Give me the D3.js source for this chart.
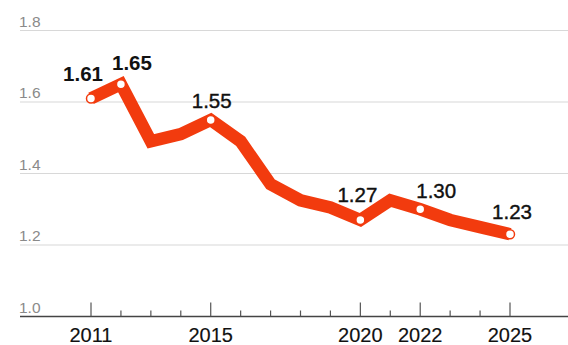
<!DOCTYPE html>
<head>
	<meta charset="utf-8">
	<title>Line chart</title>
	<script src="https://d3js.org/d3.v7.min.js"></script>
	<style>
		body{
			margin: 0;
			background-color: white;
		}
		text{
			font-family: "Liberation Sans", Arial, sans-serif;
		}
	</style>
</head>
<body>
	<div id="chart"></div>

	<script>
		var width = 568;
		var height = 345;

		// data
		var years = [2011, 2012, 2013, 2014, 2015, 2016, 2017, 2018, 2019, 2020, 2021, 2022, 2023, 2024, 2025];
		var values = [1.61, 1.65, 1.49, 1.51, 1.55, 1.49, 1.37, 1.325, 1.305, 1.27, 1.325, 1.30, 1.27, 1.25, 1.23];
		var yTicks = [1.0, 1.2, 1.4, 1.6, 1.8];
		var xLabels = [2011, 2015, 2020, 2022, 2025];
		var markedYears = [2011, 2012, 2015, 2020, 2022, 2025];

		// label nudges (dx, dy from the marker), by marked year
		var labelOffsets = {2011: [-8, -17], 2012: [11, -14], 2015: [1, -12], 2020: [-3, -18], 2022: [16, -11], 2025: [2, -15]};

		var x = d3.scaleLinear().domain([2011, 2025]).range([91, 510]);
		var y = d3.scaleLinear().domain([1.0, 1.8]).range([316.5, 30.5]);

		var svg = d3.select("#chart").append("svg")
			.attr("width", width)
			.attr("height", height);

		// gridlines + y labels
		var grid = svg.append("g").selectAll("g").data(yTicks).enter().append("g");
		grid.append("line")
			.attr("x1", 20)
			.attr("x2", width)
			.attr("y1", function(d){ return y(d); })
			.attr("y2", function(d){ return y(d); })
			.attr("stroke", function(d){ return d == 1.0 ? "#444" : "#d8d8d8"; })
			.attr("stroke-width", function(d){ return d == 1.0 ? 1.5 : 1.2; });
		grid.append("text")
			.attr("x", 19)
			.attr("y", function(d){ return y(d) - 4; })
			.attr("font-size", 15.5)
			.attr("fill", "#8a8a8a")
			.text(function(d){ return d.toFixed(1); });

		// ticks on the x axis
		svg.append("g").selectAll("line").data(years).enter().append("line")
			.attr("x1", function(d){ return x(d); })
			.attr("x2", function(d){ return x(d); })
			.attr("y1", function(d){ return xLabels.indexOf(d) >= 0 ? y(1.0) - 14 : y(1.0) - 6; })
			.attr("y2", y(1.0))
			.attr("stroke", "#555")
			.attr("stroke-width", 1.2);

		svg.append("g").selectAll("text").data(xLabels).enter().append("text")
			.attr("x", function(d){ return x(d); })
			.attr("y", 341.5)
			.attr("text-anchor", "middle")
			.attr("font-size", 20)
			.attr("fill", "#111")
			.attr("stroke", "#111")
			.attr("stroke-width", 0.15)
			.text(function(d){ return d; });

		// the line
		var line = d3.line()
			.x(function(d, i){ return x(years[i]); })
			.y(function(d){ return y(d); });

		svg.append("path")
			.datum(values)
			.attr("d", line)
			.attr("fill", "none")
			.attr("stroke", "#f23b0e")
			.attr("stroke-width", 12.5)
			.attr("stroke-linejoin", "miter")
			.attr("stroke-linecap", "butt");

		// markers and value labels
		var marks = svg.append("g").selectAll("g").data(markedYears).enter().append("g")
			.attr("transform", function(d){
				var v = values[years.indexOf(d)];
				return "translate(" + x(d) + "," + y(v) + ")";
			});
		marks.append("circle")
			.attr("r", 4.5)
			.attr("fill", "white")
			.attr("stroke", "#f23b0e")
			.attr("stroke-width", 1.5);
		// the first two labels are bold, the rest look medium weight
		marks.append("text")
			.attr("x", function(d){ return labelOffsets[d][0]; })
			.attr("y", function(d){ return labelOffsets[d][1]; })
			.attr("text-anchor", "middle")
			.attr("font-size", 20.5)
			.attr("font-weight", function(d){ return d <= 2012 ? "bold" : "normal"; })
			.attr("fill", "#111")
			.attr("stroke", "#111")
			.attr("stroke-width", function(d){ return d <= 2012 ? 0 : 0.4; })
			.text(function(d){ return values[years.indexOf(d)].toFixed(2); });
	</script>
</body>
